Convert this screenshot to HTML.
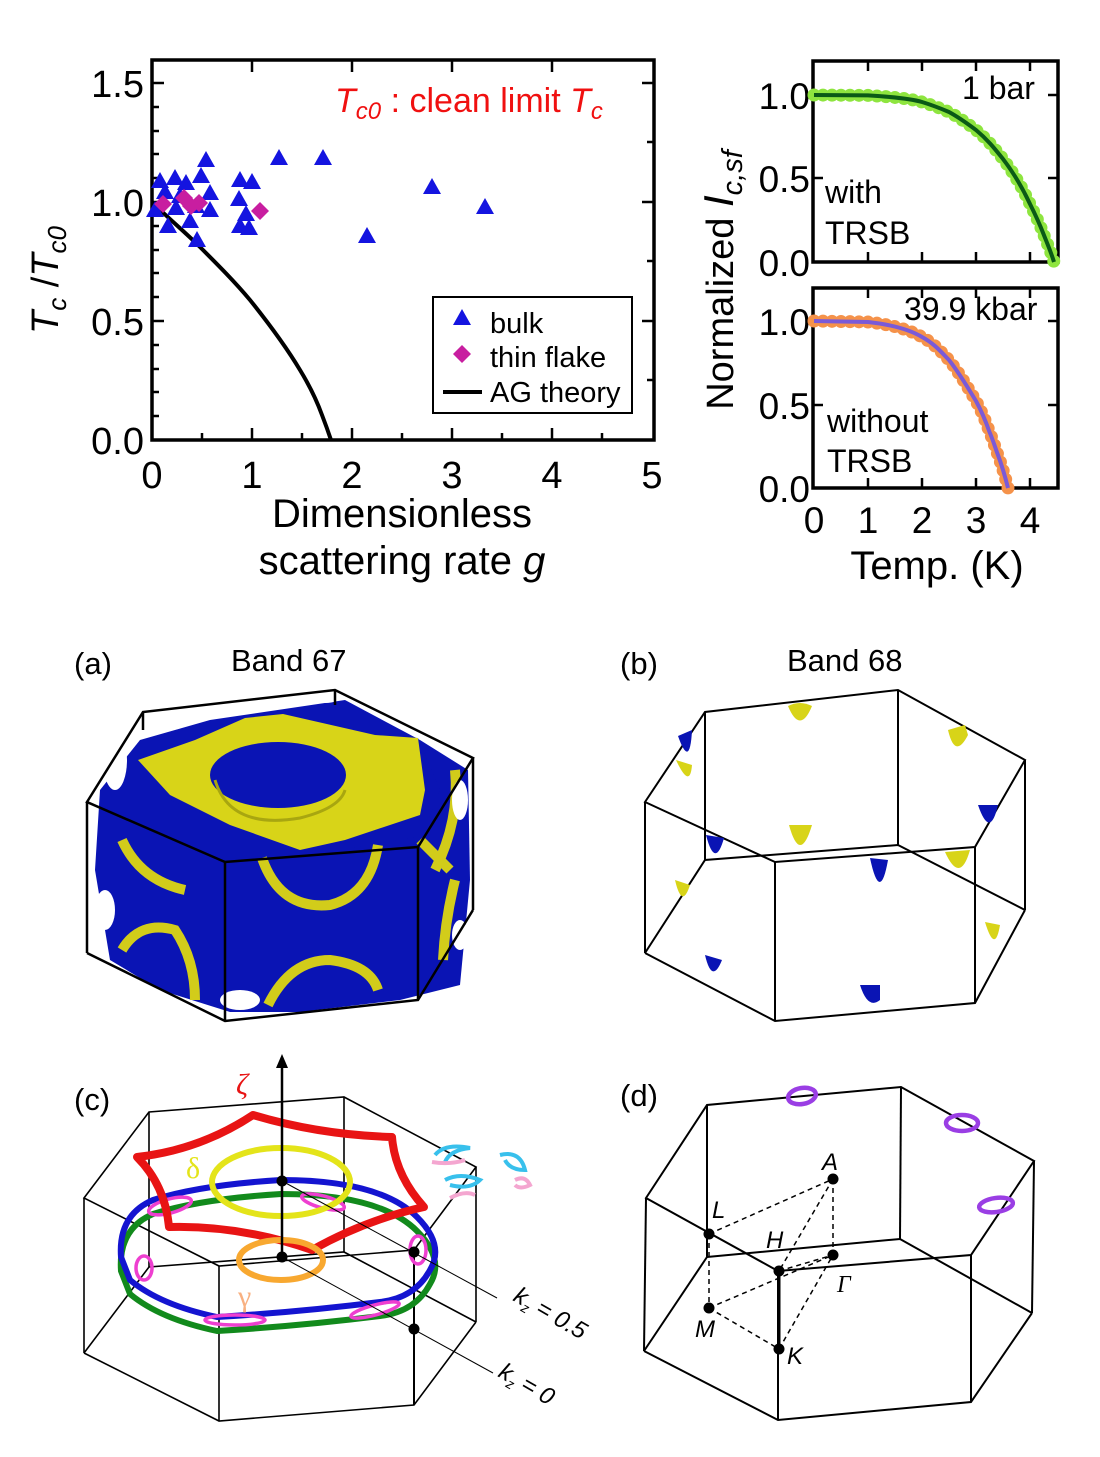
<!DOCTYPE html>
<html><head><meta charset="utf-8"><style>
html,body{margin:0;padding:0;background:#fff;}
svg{display:block;font-family:"Liberation Sans",sans-serif;}
</style></head><body>
<svg width="1100" height="1457" viewBox="0 0 1100 1457" xmlns="http://www.w3.org/2000/svg">
<defs>
<path id="tri" d="M0,-9 L9,7 L-9,7 Z" fill="#1414e0"/>
<path id="dia" d="M0,-9 L9,0 L0,9 L-9,0 Z" fill="#c81ea0"/>
</defs>
<!-- ===== Top-left plot ===== -->
<g stroke="#000" stroke-width="3.5" fill="none">
<rect x="152" y="60" width="502" height="380"/>
</g>
<g stroke="#000" stroke-width="2.5">
<line x1="152" y1="83" x2="164" y2="83"/><line x1="152" y1="202" x2="164" y2="202"/><line x1="152" y1="321" x2="164" y2="321"/>
<line x1="654" y1="83" x2="642" y2="83"/><line x1="654" y1="202" x2="642" y2="202"/><line x1="654" y1="321" x2="642" y2="321"/>
<line x1="152" y1="107" x2="159" y2="107"/><line x1="152" y1="131" x2="159" y2="131"/><line x1="152" y1="154" x2="159" y2="154"/><line x1="152" y1="178" x2="159" y2="178"/>
<line x1="152" y1="226" x2="159" y2="226"/><line x1="152" y1="250" x2="159" y2="250"/><line x1="152" y1="273" x2="159" y2="273"/><line x1="152" y1="297" x2="159" y2="297"/>
<line x1="152" y1="345" x2="159" y2="345"/><line x1="152" y1="369" x2="159" y2="369"/><line x1="152" y1="392" x2="159" y2="392"/><line x1="152" y1="416" x2="159" y2="416"/>
<line x1="654" y1="142" x2="647" y2="142"/><line x1="654" y1="261" x2="647" y2="261"/><line x1="654" y1="380" x2="647" y2="380"/>
<line x1="252" y1="440" x2="252" y2="428"/><line x1="352" y1="440" x2="352" y2="428"/><line x1="452" y1="440" x2="452" y2="428"/><line x1="552" y1="440" x2="552" y2="428"/>
<line x1="252" y1="60" x2="252" y2="72"/><line x1="352" y1="60" x2="352" y2="72"/><line x1="452" y1="60" x2="452" y2="72"/><line x1="552" y1="60" x2="552" y2="72"/>
<line x1="202" y1="440" x2="202" y2="433"/><line x1="302" y1="440" x2="302" y2="433"/><line x1="402" y1="440" x2="402" y2="433"/><line x1="502" y1="440" x2="502" y2="433"/><line x1="602" y1="440" x2="602" y2="433"/>
</g>
<g font-size="38" text-anchor="end">
<text x="144" y="97">1.5</text><text x="144" y="216">1.0</text><text x="144" y="335">0.5</text><text x="144" y="454">0.0</text>
</g>
<g font-size="38" text-anchor="middle">
<text x="152" y="488">0</text><text x="252" y="488">1</text><text x="352" y="488">2</text><text x="452" y="488">3</text><text x="552" y="488">4</text><text x="652" y="488">5</text>
</g>
<g font-size="40" text-anchor="middle">
<text x="402" y="527">Dimensionless</text>
<text x="402" y="574">scattering rate <tspan font-style="italic">g</tspan></text>
</g>
<text transform="translate(58,280) rotate(-90)" font-size="38" text-anchor="middle"><tspan font-style="italic">T</tspan><tspan font-size="26" font-style="italic" dy="8">c</tspan><tspan dy="-8"> /</tspan><tspan font-style="italic">T</tspan><tspan font-size="26" font-style="italic" dy="8">c0</tspan></text>
<text x="335" y="112" font-size="34" fill="#f01010"><tspan font-style="italic">T</tspan><tspan font-style="italic" font-size="24" dy="7">c0</tspan><tspan dy="-7"> : clean limit </tspan><tspan font-style="italic">T</tspan><tspan font-style="italic" font-size="24" dy="7">c</tspan></text>
<path d="M152,202 C168,218 185,232 200,247 C218,265 235,282 250,300 C270,325 288,350 300,370 C311,388 318,404 322,415 C327,428 329,434 331,440" stroke="#000" stroke-width="4" fill="none"/>
<g>
<use href="#tri" x="160" y="181"/><use href="#tri" x="175" y="178"/><use href="#tri" x="186" y="183"/><use href="#tri" x="165" y="192"/><use href="#tri" x="180" y="196"/>
<use href="#tri" x="206" y="160"/><use href="#tri" x="201" y="176"/><use href="#tri" x="210" y="193"/><use href="#tri" x="196" y="206"/><use href="#tri" x="168" y="226"/>
<use href="#tri" x="190" y="221"/><use href="#tri" x="197" y="240"/><use href="#tri" x="240" y="180"/><use href="#tri" x="252" y="182"/><use href="#tri" x="239" y="199"/>
<use href="#tri" x="246" y="214"/><use href="#tri" x="240" y="226"/><use href="#tri" x="249" y="228"/><use href="#tri" x="279" y="158"/><use href="#tri" x="323" y="158"/><use href="#tri" x="367" y="236"/>
<use href="#tri" x="432" y="187"/><use href="#tri" x="485" y="207"/><use href="#tri" x="210" y="210"/><use href="#tri" x="176" y="208"/><use href="#tri" x="155" y="210"/>
<use href="#dia" x="163" y="204"/><use href="#dia" x="184" y="198"/><use href="#dia" x="191" y="206"/><use href="#dia" x="199" y="203"/><use href="#dia" x="260" y="211"/>
</g>
<rect x="433" y="297" width="199" height="116" fill="#fff" stroke="#000" stroke-width="2"/>
<use href="#tri" x="462" y="318"/><use href="#dia" x="462" y="354"/>
<line x1="443" y1="392" x2="482" y2="392" stroke="#000" stroke-width="4"/>
<g font-size="29"><text x="490" y="333">bulk</text><text x="490" y="367">thin flake</text><text x="490" y="402">AG theory</text></g>

<!-- ===== Top-right plots ===== -->
<g stroke="#000" stroke-width="3.5" fill="none">
<rect x="813" y="61" width="245" height="201"/>
<rect x="813" y="288" width="245" height="200"/>
</g>
<g stroke="#000" stroke-width="2.5">
<line x1="813" y1="95" x2="823" y2="95"/><line x1="813" y1="178" x2="823" y2="178"/><line x1="1058" y1="95" x2="1048" y2="95"/><line x1="1058" y1="178" x2="1048" y2="178"/>
<line x1="813" y1="321" x2="823" y2="321"/><line x1="813" y1="405" x2="823" y2="405"/><line x1="1058" y1="321" x2="1048" y2="321"/><line x1="1058" y1="405" x2="1048" y2="405"/>
<line x1="868" y1="262" x2="868" y2="252"/><line x1="922" y1="262" x2="922" y2="252"/><line x1="976" y1="262" x2="976" y2="252"/><line x1="1030" y1="262" x2="1030" y2="252"/>
<line x1="868" y1="61" x2="868" y2="71"/><line x1="922" y1="61" x2="922" y2="71"/><line x1="976" y1="61" x2="976" y2="71"/><line x1="1030" y1="61" x2="1030" y2="71"/>
<line x1="868" y1="488" x2="868" y2="478"/><line x1="922" y1="488" x2="922" y2="478"/><line x1="976" y1="488" x2="976" y2="478"/><line x1="1030" y1="488" x2="1030" y2="478"/>
<line x1="868" y1="288" x2="868" y2="298"/><line x1="922" y1="288" x2="922" y2="298"/><line x1="976" y1="288" x2="976" y2="298"/><line x1="1030" y1="288" x2="1030" y2="298"/>
</g>
<g font-size="37" text-anchor="end">
<text x="810" y="109">1.0</text><text x="810" y="192">0.5</text><text x="810" y="276">0.0</text>
<text x="810" y="335">1.0</text><text x="810" y="419">0.5</text><text x="810" y="502">0.0</text>
</g>
<g font-size="37" text-anchor="middle">
<text x="814" y="533">0</text><text x="868" y="533">1</text><text x="922" y="533">2</text><text x="976" y="533">3</text><text x="1030" y="533">4</text>
</g>
<text x="937" y="579" font-size="40" text-anchor="middle">Temp. (K)</text>
<text transform="translate(733,280) rotate(-90)" font-size="38" text-anchor="middle">Normalized <tspan font-style="italic" font-size="42">I</tspan><tspan font-style="italic" font-size="29" dy="9">c,sf</tspan></text>
<path d="M814,95 L868,95.4 C895,97 912,99 922,102 C935,106 942,109 949,112 C960,118 968,124 976,130 C988,140 995,149 1003,159 C1013,172 1022,187 1030,204 C1036,216 1040,225 1043.5,234 C1047,243 1051,252 1054,262" fill="none" stroke="#8ee53f" stroke-width="13" stroke-linecap="round" stroke-dasharray="0 9"/>
<path d="M814,95 L868,95.4 C895,97 912,99 922,102 C935,106 942,109 949,112 C960,118 968,124 976,130 C988,140 995,149 1003,159 C1013,172 1022,187 1030,204 C1036,216 1040,225 1043.5,234 C1047,243 1051,252 1054,262" fill="none" stroke="#0a5a16" stroke-width="4"/>
<path d="M814,321 L868,322 C895,325 912,331 922,337 C935,344 942,353 949,360 C960,374 968,388 976,401 C982,412 986,422 989.5,432 C993,440 995,447 997.6,454 C1001,463 1005,476 1008,488" fill="none" stroke="#f5924a" stroke-width="13" stroke-linecap="round" stroke-dasharray="0 9"/>
<path d="M814,321 L868,322 C895,325 912,331 922,337 C935,344 942,353 949,360 C960,374 968,388 976,401 C982,412 986,422 989.5,432 C993,440 995,447 997.6,454 C1001,463 1005,476 1008,488" fill="none" stroke="#7a5ad8" stroke-width="4"/>
<g font-size="32">
<text x="962" y="99">1 bar</text>
<text x="825" y="203">with</text><text x="825" y="244">TRSB</text>
<text x="904" y="320">39.9 kbar</text>
<text x="827" y="432">without</text><text x="827" y="472">TRSB</text>
</g>

<!-- ===== Panel labels ===== -->
<g font-size="31">
<text x="74" y="674">(a)</text><text x="231" y="671">Band 67</text>
<text x="620" y="674">(b)</text><text x="787" y="671">Band 68</text>
<text x="74" y="1110">(c)</text><text x="620" y="1106">(d)</text>
</g>

<!-- ===== Panel (a) ===== -->
<g>
<path d="M100,790 L140,740 L210,720 L345,700 L420,740 L468,770 L470,880 L460,985 L400,1000 L300,1012 L230,1012 L160,990 L110,960 L95,870 Z" fill="#0a14b4"/>
<path d="M138,760 L220,730 L287,712 L370,735 L418,738 L440,790 L422,836 L340,850 L295,845 L225,823 L170,800 L155,775 Z" fill="#0a14b4"/>
<path d="M138,760 L195,740 L245,718 L283,714 L375,735 L418,738 L425,790 L420,815 L345,840 L300,850 L230,825 L170,795 Z" fill="#d8d418"/>
<ellipse cx="278" cy="775" rx="68" ry="33" fill="#0a14b4"/>
<path d="M215,780 Q230,830 300,818 Q340,808 345,790" fill="none" stroke="#a8a610" stroke-width="3"/>
<g fill="none" stroke="#d2cc1a" stroke-width="10">
<path d="M122,840 Q140,880 185,890"/><path d="M262,858 Q280,910 330,905 Q370,895 378,845"/>
<path d="M122,950 Q140,920 175,930 Q195,960 195,1000"/><path d="M268,1005 Q290,960 330,960 Q370,965 378,990"/>
<path d="M455,880 Q445,920 443,960"/><path d="M455,770 Q460,820 435,870"/>
<path d="M420,840 Q440,860 450,870"/>
</g>
<g fill="#fff">
<ellipse cx="115" cy="760" rx="12" ry="30"/><ellipse cx="170" cy="720" rx="18" ry="10"/><ellipse cx="325" cy="695" rx="18" ry="8"/>
<ellipse cx="430" cy="725" rx="20" ry="14"/><ellipse cx="460" cy="800" rx="8" ry="20"/><ellipse cx="105" cy="910" rx="10" ry="20"/>
<ellipse cx="240" cy="1000" rx="20" ry="10"/><ellipse cx="460" cy="935" rx="8" ry="15"/>
</g>
<g stroke="#000" stroke-width="2.5" fill="none">
<polygon points="87,802 143,712 335,690 473,758 418,847 225,862"/>
<line x1="87" y1="802" x2="87" y2="953"/><line x1="225" y1="862" x2="225" y2="1021"/><line x1="418" y1="847" x2="418" y2="1000"/><line x1="473" y1="758" x2="473" y2="910"/>
<polyline points="87,953 225,1021 418,1000 473,910"/>
<line x1="143" y1="712" x2="143" y2="730"/><line x1="335" y1="690" x2="335" y2="705"/>
</g>
</g>

<!-- ===== Panel (b) ===== -->
<g>
<g stroke="#000" stroke-width="2">
<polygon points="645,802 705,712 898,690 1025,760 975,847 775,862" fill="none"/>
<line x1="645" y1="802" x2="645" y2="953"/><line x1="775" y1="862" x2="775" y2="1021"/><line x1="975" y1="847" x2="975" y2="1003"/><line x1="1025" y1="760" x2="1025" y2="910"/>
<polyline points="645,953 775,1021 975,1003 1025,910" fill="none"/>
<line x1="705" y1="712" x2="705" y2="860"/><line x1="898" y1="690" x2="898" y2="845"/>
<polyline points="645,953 705,860 898,845 1025,910" fill="none"/>
</g>
<g>
<path d="M788,706 Q800,735 812,706 Q800,700 788,706Z" fill="#d8d418"/>
<path d="M948,730 Q955,760 968,735 L965,725Z" fill="#d8d418"/>
<path d="M678,736 Q690,770 692,730Z" fill="#0a14b4"/><path d="M676,760 Q690,790 692,765Z" fill="#d8d418"/>
<path d="M978,805 Q990,840 998,805Z" fill="#0a14b4"/>
<path d="M706,835 Q715,870 724,838Z" fill="#0a14b4"/>
<path d="M789,825 Q800,865 812,825Z" fill="#d8d418"/>
<path d="M945,852 Q960,885 970,850Z" fill="#d8d418"/>
<path d="M870,858 Q880,905 888,860Z" fill="#0a14b4"/>
<path d="M675,880 Q682,910 690,885Z" fill="#d8d418"/>
<path d="M985,922 Q995,955 1000,925Z" fill="#d8d418"/>
<path d="M705,955 Q712,985 722,960Z" fill="#0a14b4"/>
<path d="M860,985 Q868,1010 880,1000 L880,985Z" fill="#0a14b4"/>
</g>
</g>

<!-- ===== Panel (c) ===== -->
<g>
<g stroke="#000" stroke-width="1.6" fill="none">
<polygon points="84,1198 149,1112 344,1097 476,1167 414,1250 219,1266"/>
<line x1="84" y1="1198" x2="84" y2="1353"/><line x1="219" y1="1266" x2="219" y2="1421"/><line x1="476" y1="1167" x2="476" y2="1322"/>
<line x1="149" y1="1112" x2="149" y2="1267"/><line x1="344" y1="1097" x2="344" y2="1252"/>
<polyline points="84,1353 219,1421 414,1405 476,1322"/>
<polyline points="84,1353 149,1267 344,1252 476,1322"/>
</g>
<line x1="414" y1="1250" x2="414" y2="1405" stroke="#000" stroke-width="2"/>
<path d="M121,1257 Q118,1215 153,1200 Q200,1185 281,1180 Q380,1180 417,1217 Q445,1245 430,1270 Q415,1298 380,1302 Q300,1312 217,1317 Q160,1305 130,1280 Z" fill="none" stroke="#128a1c" stroke-width="6" transform="translate(0,14)"/>
<path d="M121,1257 Q118,1215 153,1200 Q200,1185 281,1180 Q380,1180 417,1217 Q445,1245 430,1270 Q415,1298 380,1302 Q300,1312 217,1317 Q160,1305 130,1280 Z" fill="none" stroke="#1414d0" stroke-width="6"/>
<g fill="none" stroke="#ee3fd0" stroke-width="3.5">
<ellipse cx="170" cy="1206" rx="22" ry="7" transform="rotate(-15 170 1206)"/>
<ellipse cx="323" cy="1202" rx="22" ry="6" transform="rotate(15 323 1202)"/>
<ellipse cx="418" cy="1250" rx="8" ry="14"/>
<ellipse cx="144" cy="1268" rx="8" ry="12"/>
<ellipse cx="235" cy="1320" rx="30" ry="5"/>
<ellipse cx="375" cy="1310" rx="25" ry="5" transform="rotate(-15 375 1310)"/>
</g>
<path d="M137,1157 Q200,1150 253,1115 Q320,1135 392,1137 Q395,1175 424,1207 Q365,1220 312,1250 Q240,1225 169,1227 Q165,1185 137,1157 Z" fill="none" stroke="#e81414" stroke-width="8" stroke-linejoin="round"/>
<ellipse cx="281" cy="1182" rx="69" ry="34" fill="none" stroke="#e4e41a" stroke-width="6"/>
<ellipse cx="281" cy="1260" rx="42" ry="20" fill="none" stroke="#f8a830" stroke-width="6"/>
<line x1="282" y1="1257" x2="282" y2="1065" stroke="#000" stroke-width="2.5"/>
<path d="M282,1054 L276,1068 L288,1068 Z" fill="#000"/>
<g stroke="#000" stroke-width="1">
<line x1="282" y1="1181" x2="497" y2="1298"/><line x1="282" y1="1257" x2="493" y2="1373"/>
</g>
<g fill="#000"><circle cx="282" cy="1181" r="5.5"/><circle cx="282" cy="1257" r="5.5"/><circle cx="414" cy="1252" r="5.5"/><circle cx="414" cy="1329" r="5.5"/></g>
<g fill="none" stroke-width="4">
<path d="M435,1155 Q445,1143 470,1148 Q450,1150 445,1162" stroke="#38c0ec"/>
<path d="M445,1180 Q460,1172 480,1180 Q470,1190 450,1185" stroke="#38c0ec"/>
<path d="M500,1155 Q520,1150 525,1170 Q510,1170 505,1160" stroke="#38c0ec"/>
<path d="M432,1162 Q450,1165 465,1160" stroke="#f4a6d0"/><path d="M450,1198 Q465,1190 475,1195" stroke="#f4a6d0"/>
<path d="M515,1180 Q525,1175 530,1185 Q520,1190 515,1185" stroke="#f4a6d0"/>
</g>
<g font-family="Liberation Serif,serif" font-size="30">
<text x="236" y="1094" fill="#e81414" font-style="italic">ζ</text>
<text x="186" y="1178" fill="#e4e41a">δ</text>
<text x="238" y="1306" fill="#f8b080">γ</text>
</g>
<g font-size="24" font-style="italic">
<text transform="translate(512,1300) rotate(30)">k<tspan font-size="14" dy="5">z</tspan><tspan dy="-5"> = 0.5</tspan></text>
<text transform="translate(497,1376) rotate(30)">k<tspan font-size="14" dy="5">z</tspan><tspan dy="-5"> = 0</tspan></text>
</g>
</g>

<!-- ===== Panel (d) ===== -->
<g>
<g stroke="#000" stroke-width="2" fill="none">
<polygon points="646,1198 707,1105 901,1087 1034,1161 971,1255 778,1271"/>
<line x1="646" y1="1198" x2="644" y2="1351"/><line x1="778" y1="1271" x2="778" y2="1420"/><line x1="971" y1="1255" x2="971" y2="1402"/><line x1="1034" y1="1161" x2="1032" y2="1313"/>
<line x1="707" y1="1105" x2="707" y2="1257"/><line x1="901" y1="1087" x2="900" y2="1239"/>
<polyline points="644,1351 778,1420 971,1402 1032,1313"/>
<polyline points="707,1257 900,1239 1032,1313"/>
<line x1="707" y1="1257" x2="644" y2="1351"/>
</g>
<line x1="779" y1="1271" x2="779" y2="1349" stroke="#000" stroke-width="3"/>
<g stroke="#000" stroke-width="1.5" stroke-dasharray="5 4" fill="none">
<line x1="709" y1="1234" x2="833" y2="1179"/><line x1="833" y1="1179" x2="779" y2="1271"/><line x1="833" y1="1179" x2="833" y2="1255"/>
<line x1="709" y1="1234" x2="709" y2="1308"/><line x1="709" y1="1308" x2="833" y2="1255"/><line x1="709" y1="1308" x2="779" y2="1349"/>
<line x1="779" y1="1349" x2="833" y2="1255"/><line x1="779" y1="1271" x2="833" y2="1255"/>
</g>
<g fill="#000"><circle cx="833" cy="1179" r="5.5"/><circle cx="709" cy="1234" r="5.5"/><circle cx="779" cy="1271" r="5.5"/><circle cx="833" cy="1255" r="5.5"/><circle cx="709" cy="1308" r="5.5"/><circle cx="779" cy="1349" r="5.5"/></g>
<g font-size="24" font-style="italic">
<text x="822" y="1170">A</text><text x="712" y="1218">L</text><text x="766" y="1248">H</text>
<text x="695" y="1337">M</text><text x="787" y="1364">K</text>
<text x="837" y="1292" font-family="Liberation Serif,serif">Γ</text>
</g>
<g fill="none" stroke="#9a3ee4" stroke-width="4.5">
<ellipse cx="802" cy="1096" rx="14" ry="8" transform="rotate(-10 802 1096)"/>
<ellipse cx="962" cy="1123" rx="16" ry="8"/>
<ellipse cx="996" cy="1205" rx="17" ry="7" transform="rotate(-8 996 1205)"/>
</g>
</g>
</svg>
</body></html>
